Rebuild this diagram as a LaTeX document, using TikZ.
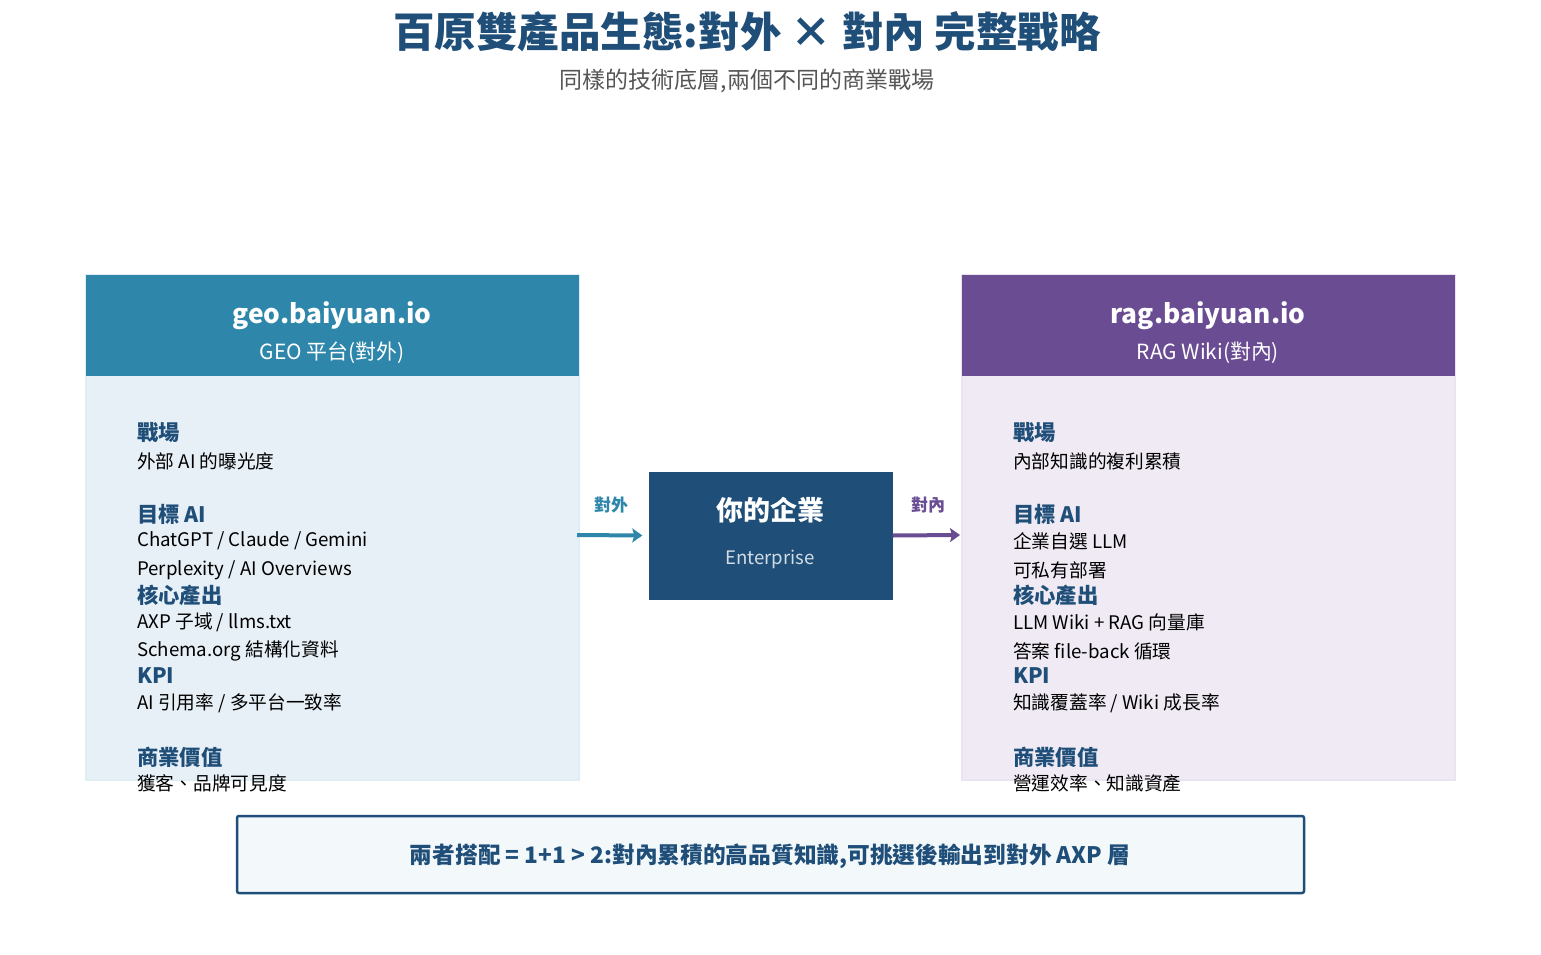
\documentclass[tikz,border=0pt]{standalone}
\usepackage{fontspec}
\setmainfont{Noto Sans CJK TC}
\usetikzlibrary{positioning,arrows.meta}
\definecolor{navy}{HTML}{1F4E79}
\definecolor{geoblue}{HTML}{2E86AB}
\definecolor{geobg}{HTML}{E8F0F7}
\definecolor{ragpurple}{HTML}{6A4C93}
\definecolor{ragbg}{HTML}{EFEAF3}
\definecolor{subgray}{HTML}{555555}
\begin{document}
\begin{tikzpicture}[x=1pt,y=-1pt,
  head/.style={anchor=west,font=\fontsize{21.3}{23}\selectfont\bfseries,text=navy,inner sep=0pt},
  item/.style={anchor=west,font=\fontsize{18.7}{20}\selectfont,inner sep=0pt},
  arr/.style={line width=4pt,-{Stealth[length=10pt,width=14pt,inset=2pt]}}]
  \useasboundingbox (0,0) rectangle (1541,955);

  \node (title) at (747,32) {\fontsize{41.5}{44}\selectfont\bfseries\color{navy}百原雙產品生態:對外 × 對內 完整戰略};
  \node (subtitle) at (747,81) {\fontsize{23}{25}\selectfont\color{subgray}同樣的技術底層,兩個不同的商業戰場};

  % left card
  \fill[geobg,draw=geoblue!15,line width=1.5pt] (86,275) rectangle (579,780);
  \fill[geoblue] (86,275) rectangle (579,376);
  \node (geo) at (332,316) {\fontsize{26.3}{28}\selectfont\bfseries\color{white}geo.baiyuan.io};
  \node (geosub) at (332,353) {\fontsize{20.9}{22}\selectfont\color{white}GEO 平台(對外)};

  % right card
  \fill[ragbg,draw=ragpurple!15,line width=1.5pt] (962,275) rectangle (1455,780);
  \fill[ragpurple] (962,275) rectangle (1455,376);
  \node (rag) at (1208,316) {\fontsize{26.3}{28}\selectfont\bfseries\color{white}rag.baiyuan.io};
  \node (ragsub) at (1208,353) {\fontsize{20.9}{22}\selectfont\color{white}RAG Wiki(對內)};

  % left card text
  \node[head] (l1) at (137,433) {戰場};
  \node[item] (l1a) at (137,461) {外部 AI 的曝光度};
  \node[head] (l2) at (137,514) {目標 AI};
  \node[item] (l2a) at (137,541) {ChatGPT / Claude / Gemini};
  \node[item] (l2b) at (137,570) {Perplexity / AI Overviews};
  \node[head] (l3) at (137,595) {核心產出};
  \node[item] (l3a) at (137,622) {AXP 子域 / llms.txt};
  \node[item] (l3b) at (137,651) {Schema.org 結構化資料};
  \node[head] (l4) at (137,676) {KPI};
  \node[item] (l4a) at (137,703) {AI 引用率 / 多平台一致率};
  \node[head] (l5) at (137,757) {商業價值};
  \node[item] (l5a) at (137,783) {獲客、品牌可見度};

  % right card text
  \node[head] (r1) at (1013,433) {戰場};
  \node[item] (r1a) at (1013,461) {內部知識的複利累積};
  \node[head] (r2) at (1013,514) {目標 AI};
  \node[item] (r2a) at (1013,541) {企業自選 LLM};
  \node[item] (r2b) at (1013,570) {可私有部署};
  \node[head] (r3) at (1013,595) {核心產出};
  \node[item] (r3a) at (1013,622) {LLM Wiki + RAG 向量庫};
  \node[item] (r3b) at (1013,651) {答案 file-back 循環};
  \node[head] (r4) at (1013,676) {KPI};
  \node[item] (r4a) at (1013,703) {知識覆蓋率 / Wiki 成長率};
  \node[head] (r5) at (1013,757) {商業價值};
  \node[item] (r5a) at (1013,783) {營運效率、知識資產};

  % center
  \node[fill=navy,minimum width=244pt,minimum height=128pt,inner sep=0pt] (ent) at (770.5,535.5) {};
  \node (entname) at (770,510) {\fontsize{27}{29}\selectfont\bfseries\color{white}你的企業};
  \node (enten) at (770,559) {\fontsize{18.6}{20}\selectfont\color{white!80!navy}Enterprise};

  \coordinate (lout) at (577,535);
  \coordinate (rin) at (960,535);
  \draw[arr,geoblue] (lout) -- ([xshift=-6pt]ent.west);
  \draw[arr,ragpurple] (ent.east) -- (rin);
  \node (outlbl) at (611,505) {\fontsize{17}{19}\selectfont\bfseries\color{geoblue}對外};
  \node (inlbl) at (928,505) {\fontsize{17}{19}\selectfont\bfseries\color{ragpurple}對內};

  % bottom
  \draw[navy,fill=geobg!50,line width=2.5pt,rounded corners=2pt] (237,816) rectangle (1304,893);
  \node (summary) at (770,856) {\fontsize{22.7}{24}\selectfont\bfseries\color{navy}兩者搭配 = 1+1 > 2:對內累積的高品質知識,可挑選後輸出到對外 AXP 層};
\end{tikzpicture}
\end{document}
